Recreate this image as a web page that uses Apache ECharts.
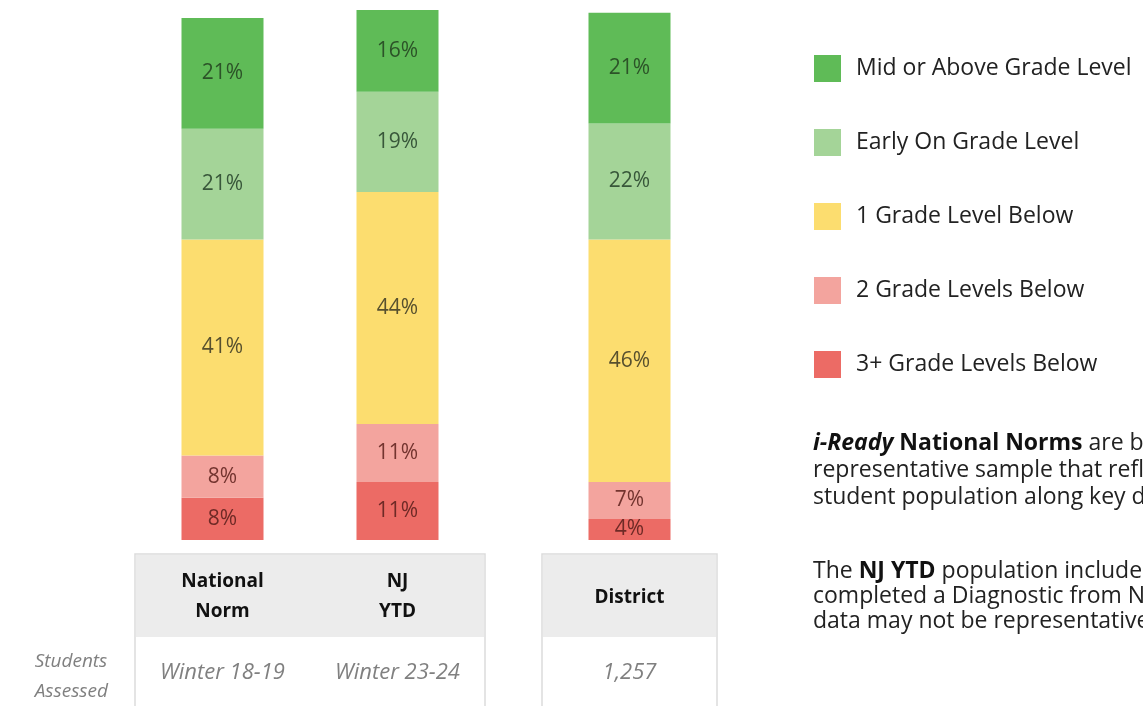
<!DOCTYPE html>
<html>
<head>
<meta charset="utf-8">
<script src="https://cdn.jsdelivr.net/npm/echarts@6/dist/echarts.min.js"></script>
<style>
  html, body { margin: 0; padding: 0; background: #fff; }
  #main { width: 1143px; height: 706px; }
</style>
</head>
<body>
<div id="main"></div>
<script>
// ---------------- data ----------------
const groupA = ['National\nNorm', 'NJ\nYTD'];
const groupB = ['District'];
const assessedA = ['Winter 18-19', 'Winter 23-24'];
const assessedB = ['1,257'];

const levels = ['Mid or Above Grade Level', 'Early On Grade Level', '1 Grade Level Below', '2 Grade Levels Below', '3+ Grade Levels Below'];
const midAbove = [21, 16, 21];
const earlyOn = [21, 19, 22];
const oneBelow = [41, 44, 46];
const twoBelow = [8, 11, 7];
const threePlus = [8, 11, 4];

const FONT = 'Open Sans';
const colors = ['#5fbb57', '#a4d498', '#fcdd6f', '#f3a49e', '#ec6b65'];
const labelColors = ['#2c5328', '#38573a', '#57502e', '#73342f', '#6e2a26'];

(function () {
  let myChart = echarts.init(document.getElementById('main'));

  // 堆叠顺序：从下往上
  let stackOrder = [
    { name: levels[4], data: threePlus, c: 4 },
    { name: levels[3], data: twoBelow, c: 3 },
    { name: levels[2], data: oneBelow, c: 2 },
    { name: levels[1], data: earlyOn, c: 1 },
    { name: levels[0], data: midAbove, c: 0 }
  ];

  let series = [];
  stackOrder.forEach(function (s) {
    [0, 1].forEach(function (g) {
      series.push({
        name: s.name,
        type: 'bar',
        stack: 'g' + g,
        xAxisIndex: g * 2,
        yAxisIndex: g,
        barWidth: 82,
        data: g === 0 ? s.data.slice(0, 2) : s.data.slice(2),
        itemStyle: { color: colors[s.c] },
        label: {
          show: true,
          position: 'inside',
          formatter: '{c}%',
          fontFamily: FONT,
          fontSize: 21,
          color: labelColors[s.c]
        },
        emphasis: { disabled: true }
      });
    });
  });

  function catAxis(grid, data, margin, style) {
    return {
      type: 'category',
      gridIndex: grid,
      data: data,
      position: 'bottom',
      axisLine: { show: false },
      axisTick: { show: false },
      axisLabel: Object.assign({ margin: margin, fontFamily: FONT, interval: 0 }, style)
    };
  }
  let headStyle = { fontSize: 19, fontWeight: 'bold', color: '#111', lineHeight: 30 };
  let rowStyle = { fontSize: 22, fontStyle: 'italic', color: '#808080' };

  let option = {
    animation: false,
    backgroundColor: '#fff',
    grid: [
      { left: 135, width: 350, top: 10, bottom: 166 },
      { left: 542, width: 175, top: 10, bottom: 166 }
    ],
    xAxis: [
      catAxis(0, groupA, 27, headStyle),
      catAxis(0, assessedA, 122, rowStyle),
      catAxis(1, groupB, 43, headStyle),
      catAxis(1, assessedB, 122, rowStyle)
    ],
    yAxis: [
      { type: 'value', gridIndex: 0, min: 0, max: 100.5, show: false },
      { type: 'value', gridIndex: 1, min: 0, max: 100.5, show: false }
    ],
    legend: {
      data: levels,
      orient: 'vertical',
      left: 809,
      top: 50,
      itemWidth: 27,
      itemHeight: 27,
      itemGap: 47,
      icon: 'rect',
      selectedMode: false,
      textStyle: { fontFamily: FONT, fontSize: 23, color: '#222', padding: [0, 0, 0, 10] }
    },
    graphic: [
      // 表格框
      { type: 'rect', z: -10, shape: { x: 135, y: 554, width: 350, height: 170 }, style: { fill: '#fff', stroke: '#dcdcdc', lineWidth: 1.5 } },
      { type: 'rect', z: -9, shape: { x: 136, y: 555, width: 348, height: 82 }, style: { fill: '#ececec' } },
      { type: 'rect', z: -10, shape: { x: 542, y: 554, width: 175, height: 170 }, style: { fill: '#fff', stroke: '#dcdcdc', lineWidth: 1.5 } },
      { type: 'rect', z: -9, shape: { x: 543, y: 555, width: 173, height: 82 }, style: { fill: '#ececec' } },
      {
        type: 'text', right: 1143 - 108, top: 647,
        style: { text: 'Students\nAssessed', align: 'right', font: 'italic 19px "Open Sans"', fill: '#808080', lineHeight: 30 }
      },
      {
        type: 'text', left: 813, top: 430,
        style: {
          text: '{bi|i-Ready} {b|National Norms} are based on a\nrepresentative sample that reflects the national\nstudent population along key demographics.',
          fill: '#222',
          font: '23px "Open Sans"',
          lineHeight: 27,
          rich: {
            bi: { fontFamily: FONT, fontSize: 23, fontWeight: 'bold', fontStyle: 'italic', fill: '#111' },
            b: { fontFamily: FONT, fontSize: 23, fontWeight: 'bold', fill: '#111' }
          }
        }
      },
      {
        type: 'text', left: 813, top: 559,
        style: {
          text: 'The {b|NJ YTD} population includes students who\ncompleted a Diagnostic from November to February, so\ndata may not be representative of all students.',
          fill: '#222',
          font: '23px "Open Sans"',
          lineHeight: 25,
          rich: {
            b: { fontFamily: FONT, fontSize: 23, fontWeight: 'bold', fill: '#111' }
          }
        }
      }
    ],
    series: series
  };

  myChart.setOption(option);
})();
</script>
</body>
</html>
